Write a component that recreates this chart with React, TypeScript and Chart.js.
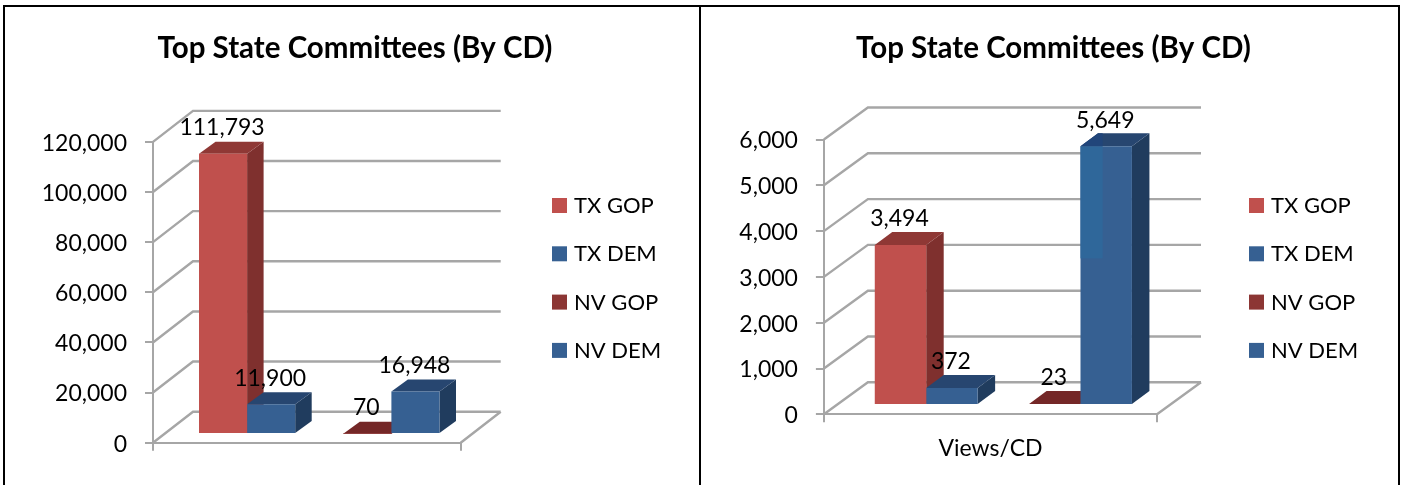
import React, { useEffect, useRef } from "react";
import { Chart, registerables } from "chart.js";

Chart.register(...registerables);

const chartTitle = "Top State Committees (By CD)";
const seriesNames = ["TX GOP", "TX DEM", "", "NV GOP", "NV DEM"];
const leftCategories = [""];
const rightCategories = ["Views/CD"];
const leftValues = [111793, 11900, null, 70, 16948];
const rightValues = [3494, 372, null, 23, 5649];
const frontColors = ["#c0504d", "#366092", "#ffffff", "#8c3634", "#366092"];
const sideColors = ["#7f302e", "#203c5e", "#ffffff", "#6f2525", "#203c5e"];
const topColors = ["#8f3835", "#274670", "#ffffff", "#742727", "#274670"];

const FONT = "Lato, Carlito, sans-serif";
const GRID = "#a6a6a6";
const TICK_FONT = 23;
const LEGEND_FONT = 22;

type Panel = {
  left: number; width: number; axisWidth: number; padRight: number; bottomH: number; titleGap: number;
  wallDx: number; wallDy: number; barDx: number; barDy: number; sideDx: number; sideDy: number;
  catPct: number; max: number; step: number; legendX: number; xLabelPad: number;
  categories: string[]; values: (number | null)[]; sheen: boolean;
};

const panels: Panel[] = [
  { left: 8, width: 694, axisWidth: 145, padRight: 241.3, bottomH: 42.3, titleGap: 75.5,
    wallDx: 40, wallDy: 31, barDx: 12.4, barDy: 8.7, sideDx: 16.5, sideDy: 12,
    catPct: 0.7816, max: 120000, step: 20000, legendX: 544, xLabelPad: 4,
    categories: leftCategories, values: leftValues, sheen: false },
  { left: 706, width: 695, axisWidth: 117.9, padRight: 244, bottomH: 70.7, titleGap: 73.1,
    wallDx: 44, wallDy: 32, barDx: 12.9, barDy: 9.3, sideDx: 17.5, sideDy: 13,
    catPct: 0.772, max: 6000, step: 1000, legendX: 543, xLabelPad: 12,
    categories: rightCategories, values: rightValues, sheen: true },
];

function face(ctx: CanvasRenderingContext2D, pts: number[][], color: string) {
  ctx.fillStyle = color;
  ctx.beginPath();
  pts.forEach(([x, y], i) => (i ? ctx.lineTo(x, y) : ctx.moveTo(x, y)));
  ctx.closePath();
  ctx.fill();
}

function makeScene(p: Panel) {
  return {
    id: "scene",
    afterLayout(chart: any) {
      // the title is centred on the whole panel, not on the plot beside the legend
      const t = chart.titleBlock;
      t.left = 0;
      t.right = chart.width;
      t.width = chart.width;
    },
    beforeDatasetsDraw(chart: any) {
      const { ctx, chartArea } = chart;
      const yScale = chart.scales.y;
      ctx.save();
      ctx.strokeStyle = GRID;
      ctx.lineWidth = 2.4;
      ctx.beginPath();
      yScale.ticks.forEach((t: any) => {
        const y = yScale.getPixelForValue(t.value);
        ctx.moveTo(chartArea.left, y);
        ctx.lineTo(chartArea.left + p.wallDx, y - p.wallDy);
        ctx.lineTo(chartArea.right + p.wallDx, y - p.wallDy);
      });
      const y0 = yScale.getPixelForValue(0);
      ctx.moveTo(chartArea.right, y0);
      ctx.lineTo(chartArea.right + p.wallDx, y0 - p.wallDy);
      ctx.stroke();

      ctx.translate(p.barDx, -p.barDy);
      chart.data.datasets.forEach((_: any, i: number) => {
        const bar = chart.getDatasetMeta(i).data[0];
        if (!bar || chart.data.datasets[i].data[0] == null) return;
        const l = bar.x - bar.width / 2;
        const r = bar.x + bar.width / 2;
        const { y, base } = bar;
        face(ctx, [[r, y], [r + p.sideDx, y - p.sideDy], [r + p.sideDx, base - p.sideDy], [r, base]], sideColors[i]);
        face(ctx, [[l, y], [l + p.sideDx, y - p.sideDy], [r + p.sideDx, y - p.sideDy], [r, y]], topColors[i]);
      });
    },
    afterDatasetsDraw(chart: any) {
      const { ctx } = chart;
      if (p.sheen) {
        const last = chart.data.datasets.length - 1;
        const bar = chart.getDatasetMeta(last).data[0];
        const l = bar.x - bar.width / 2;
        const w = bar.width * 0.43;
        const h = (bar.base - bar.y) * 0.435;
        ctx.fillStyle = "#2f679a";
        ctx.fillRect(l, bar.y, w, h);
        face(ctx, [[l, bar.y], [l + p.sideDx, bar.y - p.sideDy], [l + w, bar.y - p.sideDy], [l + w, bar.y]], "#21457a");
      }
      ctx.restore();

      // value labels
      ctx.save();
      ctx.fillStyle = "#000";
      ctx.font = `${TICK_FONT}px ${FONT}`;
      ctx.textAlign = "center";
      ctx.textBaseline = "middle";
      chart.data.datasets.forEach((ds: any, i: number) => {
        const v = ds.data[0];
        if (v == null) return;
        const bar = chart.getDatasetMeta(i).data[0];
        ctx.fillText(v.toLocaleString("en-US"), bar.x + p.barDx - 1, bar.y - p.barDy - 26);
      });

      // legend
      ctx.textAlign = "left";
      ctx.font = `${LEGEND_FONT}px ${FONT}`;
      let row = 0;
      chart.data.datasets.forEach((ds: any, i: number) => {
        if (!ds.label) return;
        const top = 198 + row * 48.3;
        ctx.fillStyle = frontColors[i];
        ctx.fillRect(p.legendX, top, 15, 15);
        ctx.fillStyle = "#000";
        ctx.fillText(ds.label, p.legendX + 22, top + 8);
        row += 1;
      });
      ctx.restore();
    },
  };
}

function ChartPanel({ panel }: { panel: Panel }) {
  const ref = useRef<HTMLCanvasElement>(null);
  useEffect(() => {
    const chart = new Chart(ref.current!, {
      type: "bar",
      data: {
        labels: panel.categories,
        datasets: seriesNames.map((name, i) => ({
          label: name,
          data: [panel.values[i]],
          backgroundColor: frontColors[i],
          borderWidth: 0,
          barPercentage: 1,
          categoryPercentage: panel.catPct,
          clip: false as any,
        })),
      },
      options: {
        animation: false,
        responsive: false,
        layout: { padding: { left: 0, top: 0, right: panel.padRight, bottom: 0 } },
        plugins: {
          legend: { display: false },
          tooltip: { enabled: false },
          title: {
            display: true,
            text: chartTitle,
            color: "#000",
            font: { family: FONT, size: 29.5, weight: "bold", lineHeight: 1.2 },
            padding: { top: 31, bottom: panel.titleGap },
          },
        },
        scales: {
          x: {
            afterFit: (s: any) => { s.height = panel.bottomH; },
            grid: { drawOnChartArea: false, tickLength: 8, color: GRID, lineWidth: 2 },
            border: { color: GRID, width: 2 },
            ticks: { color: "#000", font: { family: FONT, size: TICK_FONT }, padding: panel.xLabelPad },
          },
          y: {
            min: 0,
            max: panel.max,
            afterFit: (s: any) => { s.width = panel.axisWidth; },
            grid: { drawOnChartArea: false, tickLength: 8, color: GRID, lineWidth: 2 },
            border: { color: GRID, width: 2 },
            ticks: {
              stepSize: panel.step,
              color: "#000",
              font: { family: FONT, size: TICK_FONT },
              padding: 18,
              labelOffset: 1.5,
              callback: (v: any) => Number(v).toLocaleString("en-US"),
            },
          },
        },
      },
      plugins: [makeScene(panel)],
    } as any);
    return () => chart.destroy();
  }, [panel]);
  return (
    <canvas
      ref={ref}
      width={panel.width}
      height={485}
      style={{ position: "absolute", left: panel.left, top: 0, width: panel.width, height: 485 }}
    />
  );
}

const rule = (s: React.CSSProperties): React.CSSProperties => ({ position: "absolute", background: "#000", ...s });

export default function App() {
  return (
    <div style={{ position: "fixed", left: 0, top: 0, width: 1403, height: 485, background: "#fff", overflow: "hidden" }}>
      <div style={rule({ left: 3, top: 5, width: 1397, height: 2 })} />
      <div style={rule({ left: 3, top: 5, width: 2, height: 480 })} />
      <div style={rule({ left: 699, top: 5, width: 2, height: 480 })} />
      <div style={rule({ left: 1398, top: 5, width: 2, height: 480 })} />
      {panels.map((p, i) => (
        <ChartPanel key={i} panel={p} />
      ))}
    </div>
  );
}
